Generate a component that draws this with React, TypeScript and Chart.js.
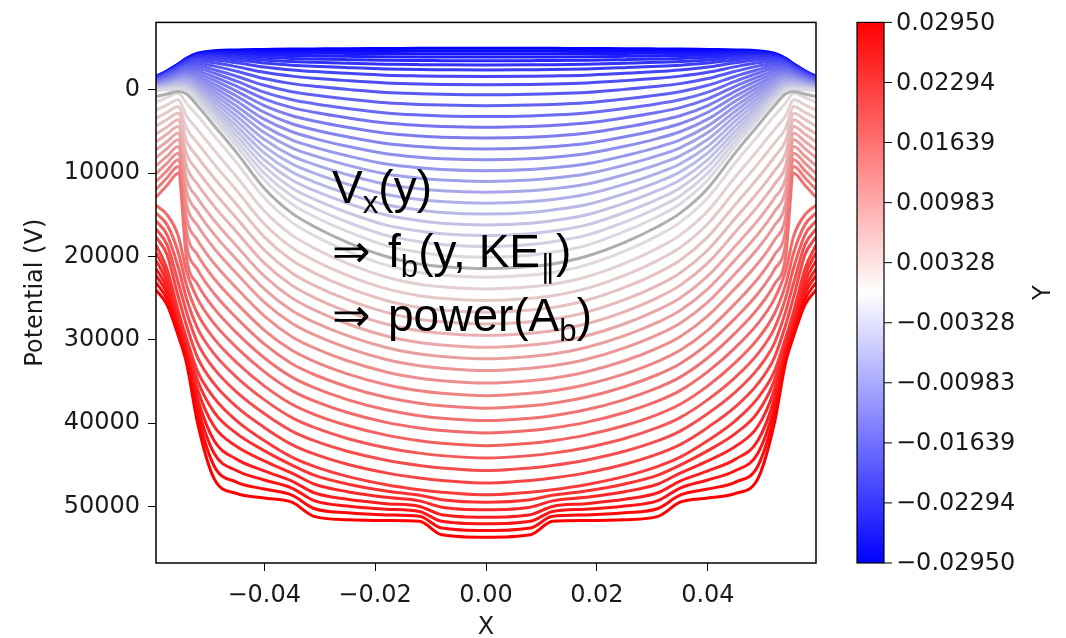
import React, { useEffect, useRef } from "react";
import { Chart, registerables } from "chart.js";

Chart.register(...registerables);

const FONT = "'DejaVu Sans', 'Liberation Sans', sans-serif";
const TEXT = "#1a1a1a";
const FONT_SIZE = 24;

// Sample positions along X shared by every potential profile
const xSamples = [
  -0.0595, -0.0575, -0.0555, -0.054, -0.052, -0.049, -0.045, -0.04, -0.035, -0.031, -0.025, -0.018, -0.012, -0.008, 0,
  0.008, 0.012, 0.018, 0.025, 0.031, 0.035, 0.04, 0.045, 0.049, 0.052, 0.054, 0.0555, 0.0575, 0.0595,
];

// Y of each profile (sets its colour)
const blueY = [
  -0.0295, -0.02832, -0.02714, -0.02596, -0.02478, -0.0236, -0.02242, -0.02124, -0.02006, -0.01888, -0.0177, -0.01652,
  -0.01534, -0.01416, -0.01298, -0.0118, -0.01062, -0.00944, -0.00826, -0.00708, -0.0059, -0.00472, -0.00354, -0.00236,
  -0.00118,
];
const redY = [
  0.00118, 0.00236, 0.00354, 0.00472, 0.0059, 0.00708, 0.00826, 0.00944, 0.01062, 0.0118, 0.01298, 0.01416, 0.01534,
  0.01652, 0.0177, 0.01888, 0.02006, 0.02124, 0.02242, 0.0236, 0.02478, 0.02596, 0.02714, 0.02832, 0.0295,
];

// Potential (V) profiles for Y < 0
const blueLines = [
  [-1600,-2300,-3100,-3800,-4400,-4700,-4800,-4850,-4900,-4920,-4950,-4970,-4990,-5000,-5000,-5000,-4990,-4970,-4950,-4920,-4900,-4850,-4800,-4700,-4400,-3800,-3100,-2300,-1600],
  [-1580,-2270,-3060,-3750,-4330,-4600,-4660,-4660,-4680,-4680,-4690,-4690,-4700,-4700,-4700,-4700,-4700,-4690,-4690,-4680,-4680,-4660,-4660,-4600,-4330,-3750,-3060,-2270,-1580],
  [-1560,-2240,-3020,-3700,-4250,-4480,-4500,-4440,-4420,-4400,-4380,-4360,-4350,-4350,-4350,-4350,-4350,-4360,-4380,-4400,-4420,-4440,-4500,-4480,-4250,-3700,-3020,-2240,-1560],
  [-1530,-2200,-2970,-3640,-4160,-4350,-4320,-4190,-4120,-4080,-4030,-3980,-3960,-3960,-3950,-3960,-3960,-3980,-4030,-4080,-4120,-4190,-4320,-4350,-4160,-3640,-2970,-2200,-1530],
  [-1500,-2160,-2920,-3570,-4060,-4200,-4110,-3910,-3780,-3710,-3630,-3550,-3520,-3510,-3490,-3510,-3520,-3550,-3630,-3710,-3780,-3910,-4110,-4200,-4060,-3570,-2920,-2160,-1500],
  [-1460,-2120,-2860,-3490,-3940,-4040,-3880,-3600,-3410,-3310,-3190,-3080,-3030,-3010,-2990,-3010,-3030,-3080,-3190,-3310,-3410,-3600,-3880,-4040,-3940,-3490,-2860,-2120,-1460],
  [-1420,-2060,-2790,-3390,-3810,-3840,-3600,-3220,-2970,-2830,-2670,-2510,-2440,-2420,-2390,-2420,-2440,-2510,-2670,-2830,-2970,-3220,-3600,-3840,-3810,-3390,-2790,-2060,-1420],
  [-1370,-1990,-2700,-3270,-3630,-3580,-3250,-2740,-2390,-2200,-1990,-1770,-1680,-1640,-1610,-1640,-1680,-1770,-1990,-2200,-2390,-2740,-3250,-3580,-3630,-3270,-2700,-1990,-1370],
  [-1300,-1900,-2580,-3120,-3400,-3250,-2790,-2110,-1650,-1400,-1110,-830,-700,-650,-610,-650,-700,-830,-1110,-1400,-1650,-2110,-2790,-3250,-3400,-3120,-2580,-1900,-1300],
  [-1220,-1790,-2430,-2930,-3130,-2850,-2240,-1360,-750,-430,-60,310,470,540,600,540,470,310,-60,-430,-750,-1360,-2240,-2850,-3130,-2930,-2430,-1790,-1220],
  [-1130,-1670,-2280,-2730,-2830,-2420,-1640,-550,220,610,1090,1540,1750,1830,1900,1830,1750,1540,1090,610,220,-550,-1640,-2420,-2830,-2730,-2280,-1670,-1130],
  [-1040,-1550,-2120,-2530,-2540,-1990,-1040,270,1180,1660,2230,2770,3020,3130,3210,3130,3020,2770,2230,1660,1180,270,-1040,-1990,-2540,-2530,-2120,-1550,-1040],
  [-960,-1430,-1970,-2330,-2250,-1560,-450,1070,2130,2690,3350,3980,4270,4390,4490,4390,4270,3980,3350,2690,2130,1070,-450,-1560,-2250,-2330,-1970,-1430,-960],
  [-870,-1310,-1810,-2120,-1950,-1130,150,1880,3100,3730,4490,5210,5540,5690,5790,5690,5540,5210,4490,3730,3100,1880,150,-1130,-1950,-2120,-1810,-1310,-870],
  [-780,-1190,-1650,-1920,-1650,-700,740,2690,4070,4780,5630,6440,6810,6980,7100,6980,6810,6440,5630,4780,4070,2690,740,-700,-1650,-1920,-1650,-1190,-780],
  [-690,-1070,-1500,-1720,-1360,-270,1340,3510,5030,5820,6770,7670,8090,8270,8400,8270,8090,7670,6770,5820,5030,3510,1340,-270,-1360,-1720,-1500,-1070,-690],
  [-600,-950,-1340,-1520,-1060,160,1940,4320,6000,6870,7910,8900,9360,9560,9700,9560,9360,8900,7910,6870,6000,4320,1940,160,-1060,-1520,-1340,-950,-600],
  [-520,-840,-1190,-1320,-770,590,2530,5120,6950,7900,9030,10110,10610,10830,10990,10830,10610,10110,9030,7900,6950,5120,2530,590,-770,-1320,-1190,-840,-520],
  [-430,-720,-1030,-1110,-470,1020,3120,5930,7920,8940,10170,11340,11880,12120,12290,12120,11880,11340,10170,8940,7920,5930,3120,1020,-470,-1110,-1030,-720,-430],
  [-340,-600,-880,-910,-180,1450,3720,6750,8880,9990,11320,12570,13160,13410,13600,13410,13160,12570,11320,9990,8880,6750,3720,1450,-180,-910,-880,-600,-340],
  [-250,-480,-720,-710,120,1880,4320,7560,9850,11040,12460,13800,14430,14710,14900,14710,14430,13800,12460,11040,9850,7560,4320,1880,120,-710,-720,-480,-250],
  [-160,-360,-570,-500,420,2310,4920,8370,10820,12080,13600,15030,15700,16000,16210,16000,15700,15030,13600,12080,10820,8370,4920,2310,420,-500,-570,-360,-160],
  [-80,-240,-410,-310,710,2740,5500,9170,11770,13110,14720,16240,16950,17270,17490,17270,16950,16240,14720,13110,11770,9170,5500,2740,710,-310,-410,-240,-80],
  [10,-120,-260,-100,1000,3170,6100,9990,12730,14150,15860,17470,18230,18560,18800,18560,18230,17470,15860,14150,12730,9990,6100,3170,1000,-100,-260,-120,10],
  [100,0,-100,100,1300,3600,6700,10800,13700,15200,17000,18700,19500,19850,20100,19850,19500,18700,17000,15200,13700,10800,6700,3600,1300,100,-100,0,100],
];

// Potential (V) profile at Y = 0
const neutralLine = [800,500,200,500,1900,4300,7500,11800,14800,16400,18300,20000,20900,21200,21450,21200,20900,20000,18300,16400,14800,11800,7500,4300,1900,500,200,500,800];

// Potential (V) profiles for Y > 0
const redLines = [
  [1500,900,400,1610,3110,5540,8720,12950,15910,17490,19370,21040,21930,22230,22490,22230,21930,21040,19370,17490,15910,12950,8720,5540,3110,1610,400,900,1500],
  [2450,1800,1200,3140,4770,7240,10400,14530,17440,18990,20830,22470,23340,23640,23900,23640,23340,22470,20830,18990,17440,14530,10400,7240,4770,3140,1200,1800,2450],
  [3400,2700,2000,4630,6400,8910,12040,16070,18930,20460,22260,23860,24720,25020,25290,25020,24720,23860,22260,20460,18930,16070,12040,8910,6400,4630,2000,2700,3400],
  [4350,3550,2800,6160,8060,10610,13720,17650,20460,21960,23720,25290,26130,26430,26700,26430,26130,25290,23720,21960,20460,17650,13720,10610,8060,6160,2800,3550,4350],
  [5300,4450,3600,7680,9720,12310,15390,19220,21980,23460,25190,26710,27540,27840,28110,27840,27540,26710,25190,23460,21980,19220,15390,12310,9720,7680,3600,4450,5300],
  [6250,5300,4400,9170,11340,13980,17030,20770,23470,24930,26620,28110,28920,29220,29490,29220,28920,28110,26620,24930,23470,20770,17030,13980,11340,9170,4400,5300,6250],
  [7200,6200,5200,10700,13000,15680,18710,22340,25000,26420,28080,29540,30330,30630,30910,30630,30330,29540,28080,26420,25000,22340,18710,15680,13000,10700,5200,6200,7200],
  [8150,7050,6000,12190,14630,17350,20350,23890,26490,27890,29510,30930,31710,32010,32290,32010,31710,30930,29510,27890,26490,23890,20350,17350,14630,12190,6000,7050,8150],
  [9100,7950,6800,13710,16290,19050,22020,25470,28010,29390,30970,32360,33120,33420,33700,33420,33120,32360,30970,29390,28010,25470,22020,19050,16290,13710,6800,7950,9100],
  [10050,8800,7600,15330,18040,20850,23790,27130,29630,30970,32520,33860,34610,34910,35190,34910,34610,33860,32520,30970,29630,27130,23790,20850,18040,15330,7600,8800,10050],
  [11000,9700,8400,16970,19830,22680,25600,28830,31270,32590,34090,35400,36130,36430,36710,36430,36130,35400,34090,32590,31270,28830,25600,22680,19830,16970,8400,9700,11000],
  [11950,10550,9200,18580,21580,24480,27370,30500,32880,34170,35640,36910,37620,37920,38210,37920,37620,36910,35640,34170,32880,30500,27370,24480,21580,18580,9200,10550,11950],
  [12900,11450,10000,20190,23340,26270,29140,32160,34490,35750,37180,38410,39110,39410,39700,39410,39110,38410,37180,35750,34490,32160,29140,26270,23340,20190,10000,11450,12900],
  [13850,15000,17500,21800,25090,28070,30910,33830,36100,37340,38730,39920,40600,40900,41190,40900,40600,39920,38730,37340,36100,33830,30910,28070,25090,21800,17500,15000,13850],
  [14800,16200,19500,23440,26880,29900,32710,35530,37740,38950,40300,41450,42120,42420,42710,42420,42120,41450,40300,38950,37740,35530,32710,29900,26880,23440,19500,16200,14800],
  [15750,17400,21300,25050,28630,31700,34480,37190,39350,40530,41850,42960,43610,43910,44200,43910,43610,42960,41850,40530,39350,37190,34480,31700,28630,25050,21300,17400,15750],
  [16700,18600,23100,26670,30390,33500,36260,38860,40970,42120,43390,44470,45100,45400,45700,45400,45100,44470,43390,42120,40970,38860,36260,33500,30390,26670,23100,18600,16700],
  [17650,19800,24800,28280,32140,35300,38030,40520,42580,43700,44940,45980,46590,46890,47190,46890,46590,45980,44940,43700,42580,40520,38030,35300,32140,28280,24800,19800,17650],
  [18600,21500,26500,29800,33800,37000,39700,42100,44100,45200,46400,47400,48000,48300,48600,48300,48000,47400,46400,45200,44100,42100,39700,37000,33800,29800,26500,21500,18600],
  [19550,22260,27030,30330,34890,38710,41240,43310,45050,46260,47320,48160,48670,49200,49500,49200,48670,48160,47320,46260,45050,43310,41240,38710,34890,30330,27030,22260,19550],
  [20510,23020,27560,30860,35990,40420,42790,44540,46010,47320,48240,48920,49340,50100,50400,50100,49340,48920,48240,47320,46010,44540,42790,40420,35990,30860,27560,23020,20510],
  [21460,23780,28090,31390,37080,42130,44330,45750,46960,48370,49150,49680,50010,51000,51300,51000,50010,49680,49150,48370,46960,45750,44330,42130,37080,31390,28090,23780,21460],
  [22300,24450,28560,31860,38050,43650,45700,46830,47800,49320,49970,50350,50610,51800,52100,51800,50610,50350,49970,49320,47800,46830,45700,43650,38050,31860,28560,24450,22300],
  [23150,25130,29030,32330,39030,45180,47080,47920,48650,50260,50780,51030,51200,52600,52900,52600,51200,51030,50780,50260,48650,47920,47080,45180,39030,32330,29030,25130,23150],
  [24000,25800,29500,32800,40000,46700,48450,49000,49500,51200,51600,51700,51800,53400,53700,53400,51800,51700,51600,51200,49500,49000,48450,46700,40000,32800,29500,25800,24000],
];

const xTicks = [-0.04, -0.02, 0, 0.02, 0.04];
const potentialTicks = [0, 10000, 20000, 30000, 40000, 50000];
const colorbarTicks = [0.0295, 0.02294, 0.01639, 0.00983, 0.00328, -0.00328, -0.00983, -0.01639, -0.02294, -0.0295];
const colorbarLabels = [
  "0.02950", "0.02294", "0.01639", "0.00983", "0.00328",
  "\u22120.00328", "\u22120.00983", "\u22120.01639", "\u22120.02294", "\u22120.02950",
];
const yMin = -0.0295;
const yMax = 0.0295;

// blue-white-red colour map; pale line colours are shaded slightly so they stay visible on white
function lineColor(y: number): string {
  const t = (y - yMin) / (yMax - yMin);
  const shade = 1 - 0.12 * (1 - Math.abs(2 * t - 1));
  let r: number, g: number, b: number;
  if (t < 0.5) {
    r = g = 510 * t;
    b = 255;
  } else {
    r = 255;
    g = b = 510 * (1 - t);
  }
  return `rgb(${Math.round(r * shade)},${Math.round(g * shade)},${Math.round(b * shade)})`;
}

function toPoints(values: number[]) {
  return values.map((v, i) => ({ x: xSamples[i], y: v }));
}

const framePlugin = {
  id: "frame",
  afterDatasetsDraw(chart: any) {
    const { ctx, chartArea } = chart;
    ctx.save();
    ctx.strokeStyle = "#000";
    ctx.lineWidth = 1.5;
    ctx.strokeRect(chartArea.left, chartArea.top, chartArea.right - chartArea.left, chartArea.bottom - chartArea.top);
    ctx.restore();
  },
};

const colorbarPlugin = {
  id: "colorbar",
  afterDraw(chart: any) {
    const { ctx, chartArea } = chart;
    const left = chartArea.right + 41;
    const width = 27;
    const top = chartArea.top;
    const bottom = chartArea.bottom;
    ctx.save();
    const grad = ctx.createLinearGradient(0, top, 0, bottom);
    grad.addColorStop(0, "rgb(255,0,0)");
    grad.addColorStop(0.5, "rgb(255,255,255)");
    grad.addColorStop(1, "rgb(0,0,255)");
    ctx.fillStyle = grad;
    ctx.fillRect(left, top, width, bottom - top);
    ctx.strokeStyle = "#000";
    ctx.lineWidth = 1.2;
    ctx.strokeRect(left, top, width, bottom - top);
    ctx.font = `${FONT_SIZE}px ${FONT}`;
    ctx.fillStyle = TEXT;
    ctx.textAlign = "left";
    ctx.textBaseline = "middle";
    ctx.lineWidth = 1;
    colorbarTicks.forEach((v, i) => {
      const y = top + ((yMax - v) / (yMax - yMin)) * (bottom - top);
      ctx.beginPath();
      ctx.moveTo(left + width, y);
      ctx.lineTo(left + width + 8, y);
      ctx.stroke();
      ctx.fillText(colorbarLabels[i], left + width + 12, y + 1);
    });
    ctx.translate(1044, (top + bottom) / 2);
    ctx.rotate(-Math.PI / 2);
    ctx.textAlign = "center";
    ctx.fillText("Y", 0, 0);
    ctx.restore();
  },
};

function formatX(v: number): string {
  const s = Number(v).toFixed(2);
  return s.startsWith("-") ? "\u2212" + s.slice(1) : s;
}

export default function App() {
  const canvasRef = useRef<HTMLCanvasElement>(null);

  useEffect(() => {
    const datasets: any[] = [];
    blueLines.forEach((row, i) => {
      datasets.push({ data: toPoints(row), borderColor: lineColor(blueY[i]), order: 100 - i });
    });
    redLines.forEach((row, k) => {
      datasets.push({ data: toPoints(row), borderColor: lineColor(redY[k]), order: 75 - k });
    });
    datasets.push({ data: toPoints(neutralLine), borderColor: "rgba(170,170,170,0.95)", order: 0 });
    datasets.forEach((d) => {
      d.showLine = true;
      d.pointRadius = 0;
      d.borderWidth = 3;
      d.cubicInterpolationMode = "monotone";
      d.fill = false;
    });

    const tickFont = { family: FONT, size: FONT_SIZE };
    const chart = new Chart(canvasRef.current as HTMLCanvasElement, {
      type: "scatter",
      data: { datasets },
      options: {
        animation: false,
        responsive: false,
        events: [],
        layout: { padding: { left: 0, right: 250, top: 16, bottom: 0 } },
        plugins: { legend: { display: false }, tooltip: { enabled: false } },
        scales: {
          x: {
            type: "linear",
            min: -0.0595,
            max: 0.0595,
            afterBuildTicks: (scale: any) => {
              scale.ticks = xTicks.map((value) => ({ value }));
            },
            afterFit: (scale: any) => {
              scale.height = 75;
            },
            ticks: { font: tickFont, color: TEXT, padding: 10, maxRotation: 0, autoSkip: false, callback: (v: any) => formatX(v) },
            grid: { drawOnChartArea: false, drawTicks: true, tickLength: 8, color: "#000", tickColor: "#000", lineWidth: 1 },
            border: { display: false },
            title: { display: true, text: "X", font: tickFont, color: TEXT, padding: { top: 0, bottom: -4 } },
          },
          y: {
            type: "linear",
            reverse: true,
            min: -8100,
            max: 56800,
            afterBuildTicks: (scale: any) => {
              scale.ticks = potentialTicks.map((value) => ({ value }));
            },
            afterFit: (scale: any) => {
              scale.width = 156;
            },
            ticks: { font: tickFont, color: TEXT, padding: 8, autoSkip: false, callback: (v: any) => String(v) },
            grid: { drawOnChartArea: false, drawTicks: true, tickLength: 8, color: "#000", tickColor: "#000", lineWidth: 1 },
            border: { display: false },
            title: { display: true, text: "Potential (V)", font: tickFont, color: TEXT, padding: { top: 21, bottom: 0 } },
          },
        },
      } as any,
      plugins: [framePlugin, colorbarPlugin],
    });
    return () => chart.destroy();
  }, []);

  const sub: React.CSSProperties = { fontSize: "0.68em", position: "relative", top: "0.32em" };
  const arrow: React.CSSProperties = { display: "inline-block", width: 56 };

  return (
    <div style={{ position: "fixed", left: 0, top: 0, width: 1066, height: 638, background: "#fff", overflow: "hidden" }}>
      <canvas ref={canvasRef} width={1066} height={638} style={{ position: "absolute", left: 0, top: 0, width: 1066, height: 638 }} />
      <div
        style={{
          position: "absolute",
          left: 332,
          top: 158,
          fontFamily: "'Liberation Sans', Arial, sans-serif",
          fontSize: 46,
          lineHeight: "58px",
          color: "#000",
          whiteSpace: "nowrap",
          pointerEvents: "none",
        }}
      >
        <div>
          V<span style={sub}>x</span>(y)
        </div>
        <div>
          <span style={arrow}>{"\u21D2"}</span>f<span style={sub}>b</span>(y, KE<span style={sub}>{"\u2225"}</span>)
        </div>
        <div>
          <span style={arrow}>{"\u21D2"}</span>power(A<span style={sub}>b</span>)
        </div>
      </div>
    </div>
  );
}
